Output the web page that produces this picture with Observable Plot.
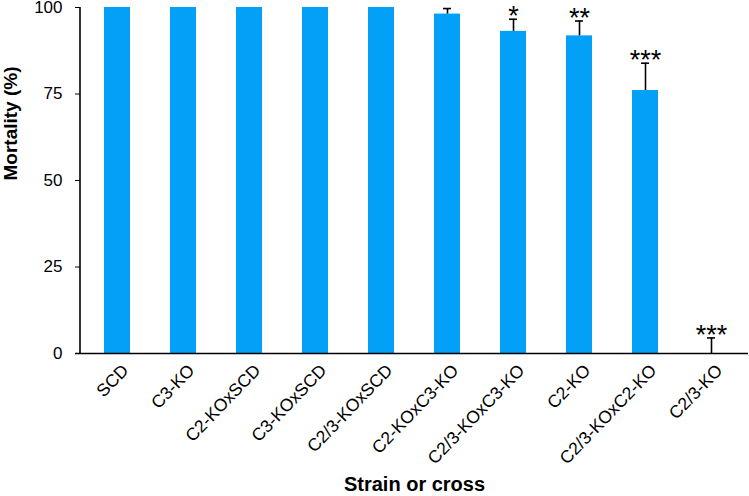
<!DOCTYPE html>
<html>
<head>
<meta charset="utf-8">
<script src="https://cdn.jsdelivr.net/npm/d3@7"></script>
<script src="https://cdn.jsdelivr.net/npm/@observablehq/plot@0.6"></script>
<style>
  html, body { margin: 0; padding: 0; background: #fff; }
  #chart svg { display: block; }
</style>
</head>
<body>
<div id="chart"></div>
<script>
// Data
const strains = ["SCD", "C3-KO", "C2-KOxSCD", "C3-KOxSCD", "C2/3-KOxSCD", "C2-KOxC3-KO", "C2/3-KOxC3-KO", "C2-KO", "C2/3-KOxC2-KO", "C2/3-KO"];
const mortality = [100, 100, 100, 100, 100, 98.1, 93.1, 91.8, 76.0, 0];
const errorTop = [100, 100, 100, 100, 100, 99.7, 96.6, 96.1, 83.9, 4.5];
const significance = ["", "", "", "", "", "", "*", "**", "***", "***"];
const yTicks = [0, 25, 50, 75, 100];

const rows = strains.map((s, i) => ({strain: s, value: mortality[i], err: errorTop[i], sig: significance[i]}));
const errRows = rows.filter(d => d.err > d.value);
const sigRows = rows.filter(d => d.sig);

const font = "'Liberation Sans', Arial, Helvetica, sans-serif";

const plot = Plot.plot({
  width: 749,
  height: 496,
  marginLeft: 80,
  marginRight: 1,
  marginTop: 7,
  marginBottom: 143,
  style: {fontFamily: font, background: "#fff", color: "#000", overflow: "visible"},
  x: {domain: strains, paddingInner: 0.6, paddingOuter: 0.3, label: null},
  y: {domain: [0, 100], label: null},
  marks: [
    Plot.barY(rows, {x: "strain", y: "value", fill: "#02A0F7"}),
    Plot.ruleX(errRows, {x: "strain", y1: "value", y2: "err", stroke: "#000", strokeWidth: 1.6}),
    Plot.tickY(errRows, {x: "strain", y: "err", stroke: "#000", strokeWidth: 1.6, insetLeft: 9, insetRight: 9}),
    Plot.text(sigRows, {x: "strain", y: "err", text: "sig", lineAnchor: "top", dy: -13, fontSize: 27, fill: "#000", style: "letter-spacing: 3px"}),
    Plot.ruleY([0], {stroke: "#000", strokeWidth: 1.6, insetLeft: -5}),
    Plot.axisY({ticks: yTicks, tickSize: 5, tickPadding: 13, fontSize: 17, label: null, tickFormat: d => String(d)}),
    Plot.axisX({tickSize: 0, tickRotate: -46, tickPadding: 14, dx: 8, fontSize: 17.5, label: null}),
    Plot.text(["Strain or cross"], {frameAnchor: "bottom", dy: 137, fontSize: 20, fontWeight: "bold", fill: "#000"}),
    Plot.text(["Mortality (%)"], {frameAnchor: "left", dx: -70, rotate: -90, fontSize: 19, fontWeight: "bold", fill: "#000"})
  ]
});

// Draw the y-axis line using the plot's own scales
const ys = plot.scale("y");
const xs = plot.scale("x");
d3.select(plot).append("line")
  .attr("x1", xs.range[0]).attr("x2", xs.range[0])
  .attr("y1", ys.range[0] + 0.8).attr("y2", ys.range[1])
  .attr("stroke", "#000").attr("stroke-width", 1.6);

document.getElementById("chart").appendChild(plot);
</script>
</body>
</html>
